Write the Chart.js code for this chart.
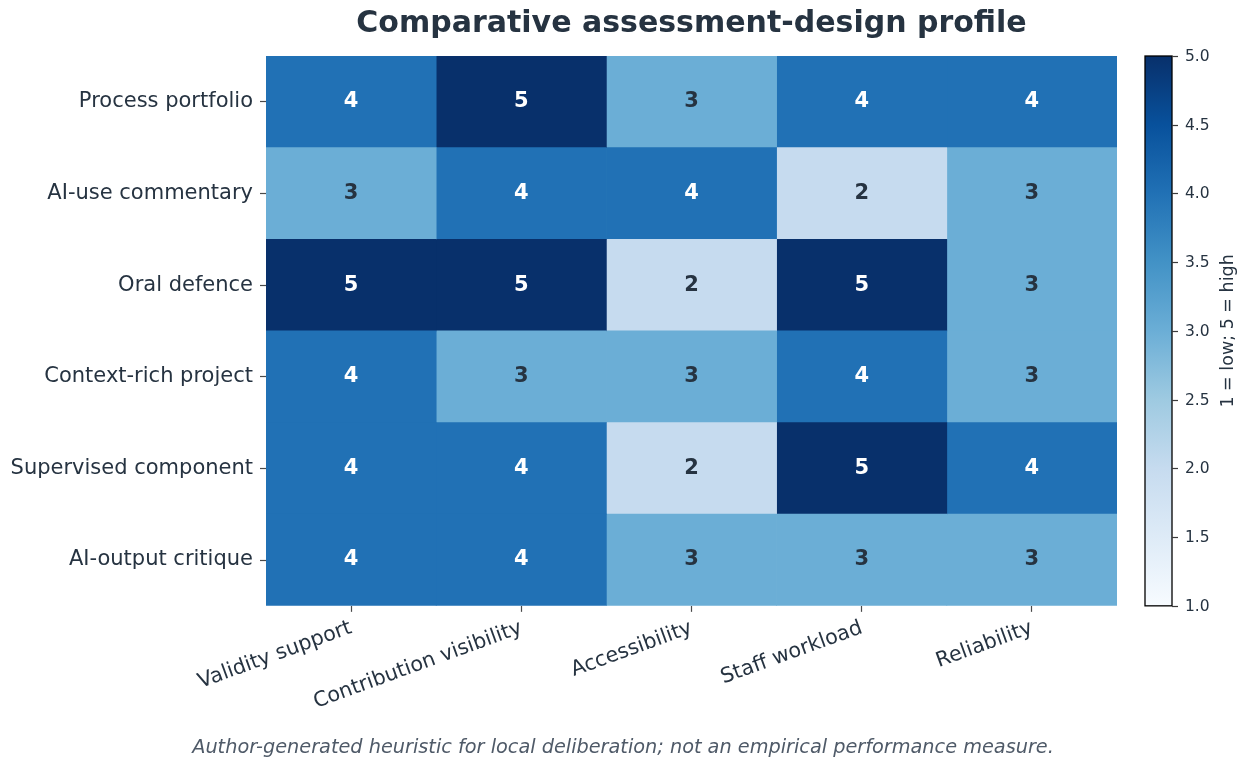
<!DOCTYPE html>
<html lang="en">
<head>
    <meta charset="UTF-8">
    <title>Comparative assessment-design profile</title>
    <script src="https://cdn.jsdelivr.net/npm/chart.js"></script>
    <style>
        html, body { margin: 0; padding: 0; background: #ffffff; }
        canvas { display: block; }
    </style>
</head>
<body>
    <canvas id="heatmap" width="1246" height="768"></canvas>
    <script>
        // Rows (assessment designs) and columns (criteria)
        const rowLabels = [
            'Process portfolio',
            'AI-use commentary',
            'Oral defence',
            'Context-rich project',
            'Supervised component',
            'AI-output critique'
        ];
        const colLabels = [
            'Validity support',
            'Contribution visibility',
            'Accessibility',
            'Staff workload',
            'Reliability'
        ];

        // Scores per row, 1 = low; 5 = high
        const processPortfolio = [4, 5, 3, 4, 4];
        const aiUseCommentary = [3, 4, 4, 2, 3];
        const oralDefence = [5, 5, 2, 5, 3];
        const contextRichProject = [4, 3, 3, 4, 3];
        const supervisedComponent = [4, 4, 2, 5, 4];
        const aiOutputCritique = [4, 4, 3, 3, 3];
        const scoreRows = [processPortfolio, aiUseCommentary, oralDefence, contextRichProject, supervisedComponent, aiOutputCritique];

        const scoreMin = 1;
        const scoreMax = 5;

        // matplotlib "Blues" colormap stops
        const blues = ['#f7fbff', '#deebf7', '#c6dbef', '#9ecae1', '#6baed6', '#4292c6', '#2171b5', '#08519c', '#08306b'];

        const FONT = "'DejaVu Sans', 'Liberation Sans', sans-serif";
        const TEXT = '#263341';

        function hexToRgb(h) {
            return [parseInt(h.slice(1, 3), 16), parseInt(h.slice(3, 5), 16), parseInt(h.slice(5, 7), 16)];
        }

        function bluesColor(v) {
            let t = (v - scoreMin) / (scoreMax - scoreMin);
            t = Math.max(0, Math.min(1, t)) * (blues.length - 1);
            const i = Math.min(Math.floor(t), blues.length - 2);
            const f = t - i;
            const a = hexToRgb(blues[i]), b = hexToRgb(blues[i + 1]);
            const c = a.map((x, k) => Math.round(x + (b[k] - x) * f));
            return 'rgb(' + c.join(',') + ')';
        }

        // one stacked dataset per column, each cell one unit wide
        const datasets = colLabels.map((col, ci) => ({
            label: col,
            data: rowLabels.map(() => 1),
            scores: scoreRows.map(r => r[ci]),
            backgroundColor: scoreRows.map(r => bluesColor(r[ci])),
            borderWidth: 0,
            barPercentage: 1,
            categoryPercentage: 1
        }));

        // draws the score in the middle of every cell
        const cellText = {
            id: 'cellText',
            afterDatasetsDraw(chart) {
                const ctx = chart.ctx;
                ctx.save();
                ctx.font = 'bold 21px ' + FONT;
                ctx.textAlign = 'center';
                ctx.textBaseline = 'middle';
                chart.data.datasets.forEach((ds, di) => {
                    chart.getDatasetMeta(di).data.forEach((bar, ri) => {
                        const v = ds.scores[ri];
                        const p = bar.getCenterPoint();
                        ctx.fillStyle = v >= 4 ? '#ffffff' : TEXT;
                        ctx.fillText(String(v), p.x, p.y);
                    });
                });
                ctx.restore();
            }
        };

        // colour bar, its ticks and its label, placed on the right-hand scale
        const colorBar = {
            id: 'colorBar',
            afterDraw(chart) {
                const s = chart.scales.cb;
                const ctx = chart.ctx;
                const x0 = s.left + 28;
                const w = 27;
                const top = s.getPixelForValue(scoreMax);
                const bottom = s.getPixelForValue(scoreMin);
                ctx.save();
                const g = ctx.createLinearGradient(0, bottom, 0, top);
                blues.forEach((c, i) => g.addColorStop(i / (blues.length - 1), c));
                ctx.fillStyle = g;
                ctx.fillRect(x0, top, w, bottom - top);
                ctx.strokeStyle = '#000000';
                ctx.lineWidth = 1.3;
                ctx.strokeRect(x0, top, w, bottom - top);
                ctx.strokeStyle = '#3b3b3b';
                ctx.lineWidth = 1.2;
                ctx.font = '15.5px ' + FONT;
                ctx.fillStyle = TEXT;
                ctx.textAlign = 'left';
                ctx.textBaseline = 'middle';
                s.ticks.forEach(t => {
                    const y = Math.round(s.getPixelForValue(t.value)) + 0.5;
                    ctx.beginPath();
                    ctx.moveTo(x0 + w, y);
                    ctx.lineTo(x0 + w + 6, y);
                    ctx.stroke();
                    ctx.fillText(t.value.toFixed(1), x0 + w + 13, y);
                });
                ctx.translate(s.left + 111, (top + bottom) / 2);
                ctx.rotate(-Math.PI / 2);
                ctx.font = '17.5px ' + FONT;
                ctx.textAlign = 'center';
                ctx.fillText('1 = low; 5 = high', 0, 0);
                ctx.restore();
            }
        };

        new Chart(document.getElementById('heatmap'), {
            type: 'bar',
            data: { labels: rowLabels, datasets: datasets },
            plugins: [cellText, colorBar],
            options: {
                indexAxis: 'y',
                responsive: false,
                animation: false,
                layout: { padding: 0 },
                plugins: {
                    legend: { display: false },
                    tooltip: { enabled: false },
                    title: {
                        display: true,
                        fullSize: false,
                        text: 'Comparative assessment-design profile',
                        color: TEXT,
                        font: { family: FONT, size: 30, weight: 'bold' },
                        padding: { top: 6, bottom: 14 }
                    },
                    subtitle: {
                        display: true,
                        position: 'bottom',
                        text: 'Author-generated heuristic for local deliberation; not an empirical performance measure.',
                        color: '#4f5a68',
                        font: { family: FONT, size: 19.3, style: 'italic' },
                        padding: { top: 10, bottom: 8 }
                    }
                },
                scales: {
                    x: {
                        type: 'linear',
                        stacked: true,
                        min: 0,
                        max: colLabels.length,
                        afterBuildTicks(scale) {
                            scale.ticks = colLabels.map((c, i) => ({ value: i + 0.5 }));
                        },
                        afterFit(scale) { scale.height = 121; },
                        ticks: {
                            autoSkip: false,
                            minRotation: 20,
                            maxRotation: 20,
                            padding: 4,
                            color: TEXT,
                            font: { family: FONT, size: 20.7 },
                            callback: (v, i) => colLabels[i]
                        },
                        grid: { drawOnChartArea: false, color: '#4a4a4a', tickLength: 6, tickWidth: 1.2 },
                        border: { display: false }
                    },
                    y: {
                        type: 'category',
                        stacked: true,
                        afterFit(scale) { scale.width = 266; },
                        ticks: {
                            padding: 7,
                            color: TEXT,
                            font: { family: FONT, size: 21 }
                        },
                        grid: { drawOnChartArea: false, offset: false, color: '#4a4a4a', tickLength: 6, tickWidth: 1.2 },
                        border: { display: false }
                    },
                    cb: {
                        type: 'linear',
                        axis: 'y',
                        position: 'right',
                        offset: false,
                        min: scoreMin,
                        max: scoreMax,
                        afterFit(scale) { scale.width = 129; },
                        ticks: { display: false, stepSize: 0.5 },
                        grid: { display: false, drawTicks: false, offset: false },
                        border: { display: false }
                    }
                }
            }
        });
    </script>
</body>
</html>
